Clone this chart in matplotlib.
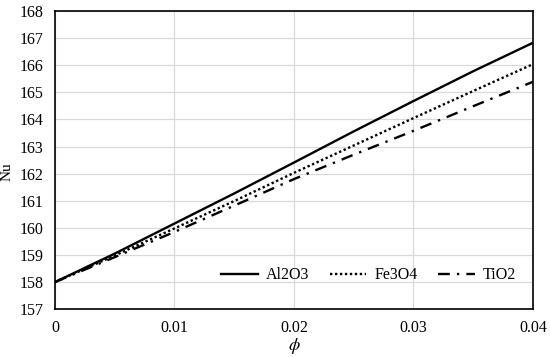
import matplotlib.pyplot as plt

plt.rcParams['font.family'] = ['Liberation Serif', 'DejaVu Serif']
plt.rcParams['mathtext.fontset'] = 'stix'

# volume fraction
phi = [0, 0.005, 0.01, 0.015, 0.02, 0.025, 0.03, 0.035, 0.04]

# Nusselt number for each nanofluid
nu_al2o3 = [158.0, 159.05, 160.16, 161.27, 162.41, 163.56, 164.68, 165.78, 166.83]
nu_fe3o4 = [158.0, 158.98, 159.98, 160.99, 162.03, 163.04, 164.05, 165.05, 166.04]
nu_tio2 = [158.0, 158.92, 159.85, 160.82, 161.80, 162.70, 163.58, 164.49, 165.39]

fig, ax = plt.subplots(figsize=(5.5, 3.57), dpi=100)
fig.subplots_adjust(left=0.1, right=0.969, top=0.969, bottom=0.134)

ax.plot(phi, nu_al2o3, color='black', lw=1.7, ls='-', label='Al2O3')
ax.plot(phi, nu_fe3o4, color='black', lw=1.7, ls=(0, (1, 1.1)), label='Fe3O4')
ax.plot(phi, nu_tio2, color='black', lw=1.7, ls=(0, (5, 3, 1, 3)), label='TiO2')

ax.set_xlim(0, 0.04)
ax.set_ylim(157, 168)
ax.set_xticks([0, 0.01, 0.02, 0.03, 0.04])
ax.set_xticklabels(['0', '0.01', '0.02', '0.03', '0.04'])
ax.set_yticks(range(157, 169))
ax.grid(True, color='#d9d9d9', lw=0.9)
ax.set_axisbelow(True)
ax.tick_params(length=0, labelsize=11.5, pad=8)
for s in ax.spines.values():
    s.set_color('black')
    s.set_linewidth(1.2)

ax.set_xlabel(r'$\phi$', fontsize=13, labelpad=0)
ax.set_ylabel('Nu', fontsize=11)
ax.yaxis.set_label_coords(-0.087, 0.46)

ax.legend(loc='center left', ncol=3, frameon=False, fontsize=11.5,
          handlelength=2.3, handletextpad=0.5, columnspacing=1.3,
          borderpad=0, borderaxespad=0, bbox_to_anchor=(0.347, 0.114))

plt.savefig('out.png', dpi=100)
